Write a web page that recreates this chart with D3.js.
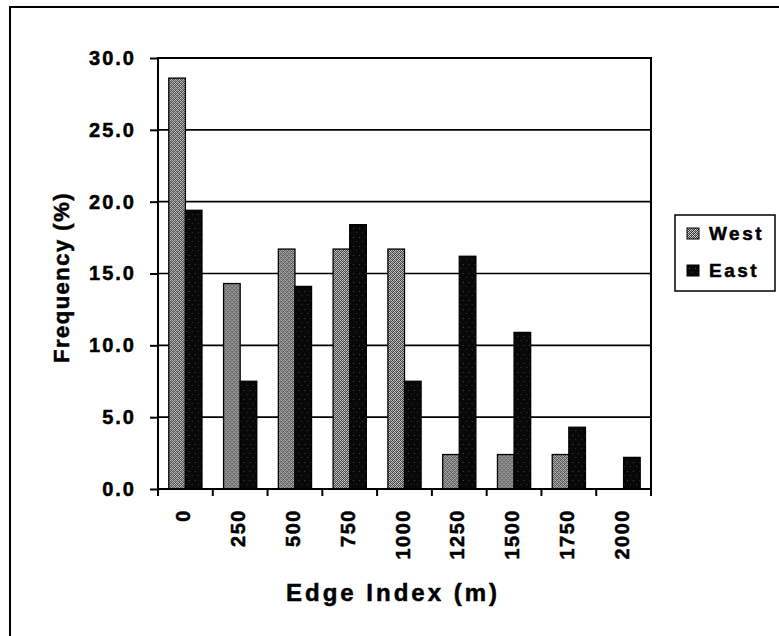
<!DOCTYPE html>
<html>
<head>
<meta charset="utf-8">
<script src="https://cdn.jsdelivr.net/npm/d3@7"></script>
<style>
  html, body { margin: 0; padding: 0; background: #fff; }
  svg { display: block; }
  text { font-family: "Liberation Sans", Arial, sans-serif; font-weight: bold; fill: #000; stroke: #000; stroke-width: 0.5px; }
</style>
</head>
<body>
<svg id="chart" width="779" height="636"></svg>
<script>
// ---- data ----
const categories = ["0", "250", "500", "750", "1000", "1250", "1500", "1750", "2000"];
const seriesNames = ["West", "East"];
const westValues = [28.6, 14.3, 16.7, 16.7, 16.7, 2.4, 2.4, 2.4, 0];
const eastValues = [19.4, 7.5, 14.1, 18.4, 7.5, 16.2, 10.9, 4.3, 2.2];
const yTicks = [0, 5, 10, 15, 20, 25, 30];
const yLabel = "Frequency (%)";
const xLabel = "Edge Index (m)";

// ---- layout ----
const W = 779, H = 636;
const plot = { left: 158, right: 651, top: 58, bottom: 489 };

const svg = d3.select("#chart");
const defs = svg.append("defs");

// West: gray crosshatch texture
const pw = defs.append("pattern").attr("id", "westPat")
  .attr("patternUnits", "userSpaceOnUse").attr("width", 4).attr("height", 4);
pw.append("rect").attr("width", 4).attr("height", 4).attr("fill", "#d6d6d6");
[[0,0,"#222"],[2,0,"#555"],[1,1,"#444"],[3,1,"#333"],[0,2,"#555"],[2,2,"#222"],[3,3,"#444"],[1,3,"#333"],[2,1,"#999"],[0,3,"#999"]]
  .forEach(([px, py, c]) => pw.append("rect").attr("x", px).attr("y", py).attr("width", 1).attr("height", 1).attr("fill", c));

// East: near black with sparse gray dots
const pe = defs.append("pattern").attr("id", "eastPat")
  .attr("patternUnits", "userSpaceOnUse").attr("width", 6).attr("height", 9);
pe.append("rect").attr("width", 6).attr("height", 9).attr("fill", "#080808");
pe.append("rect").attr("x", 2).attr("y", 3).attr("width", 1).attr("height", 1).attr("fill", "#4a4a4a");
pe.append("rect").attr("x", 5).attr("y", 7).attr("width", 1).attr("height", 1).attr("fill", "#3a3a3a");

const fills = { West: "url(#westPat)", East: "url(#eastPat)" };

// outer frame (open on right/bottom)
svg.append("path")
  .attr("d", d3.line()([[10, H + 5], [10, 7], [W + 5, 7]]))
  .attr("fill", "none").attr("stroke", "#000").attr("stroke-width", 2);

// scales
const y = d3.scaleLinear().domain([0, 30]).range([plot.bottom, plot.top]);
const x0 = d3.scaleBand().domain(categories).range([plot.left, plot.right])
  .paddingInner(0.394).paddingOuter(0.197);
const x1 = d3.scaleBand().domain(seriesNames).range([0, x0.bandwidth()]);

// gridlines
svg.append("g").selectAll("line").data(yTicks.filter(t => t > 0 && t < 30)).join("line")
  .attr("x1", plot.left).attr("x2", plot.right)
  .attr("y1", d => y(d)).attr("y2", d => y(d))
  .attr("stroke", "#000").attr("stroke-width", 1.6);

// bars
const data = categories.map((c, i) => ({ c, West: westValues[i], East: eastValues[i] }));
const groups = svg.append("g").selectAll("g").data(data).join("g")
  .attr("transform", d => `translate(${x0(d.c)},0)`);
groups.selectAll("rect").data(d => seriesNames.map(s => ({ s, v: d[s] })).filter(e => e.v > 0)).join("rect")
  .attr("x", d => x1(d.s))
  .attr("width", x1.bandwidth())
  .attr("y", d => y(d.v))
  .attr("height", d => y(0) - y(d.v))
  .attr("fill", d => fills[d.s])
  .attr("stroke", "#000").attr("stroke-width", 1.3);

// plot border
svg.append("rect")
  .attr("x", plot.left).attr("y", plot.top)
  .attr("width", plot.right - plot.left).attr("height", plot.bottom - plot.top)
  .attr("fill", "none").attr("stroke", "#000").attr("stroke-width", 2);

// y axis ticks + labels
const yAxis = d3.axisLeft(y).tickValues(yTicks).tickFormat(d3.format(".1f")).tickSize(8).tickPadding(14);
const gy = svg.append("g").attr("transform", `translate(${plot.left},0)`).call(yAxis);
gy.select(".domain").remove();
gy.selectAll(".tick line").attr("stroke", "#000").attr("stroke-width", 2);
gy.selectAll(".tick text")
  .style("font-family", "'Liberation Sans', Arial, sans-serif")
  .style("font-weight", "bold").style("font-size", "20px").style("letter-spacing", "2px")
  .attr("fill", "#000").attr("stroke", "#000").attr("stroke-width", 0.5);

// x axis ticks at category boundaries
const boundaries = d3.range(categories.length + 1).map(i => plot.left + i * x0.step());
svg.append("g").selectAll("line").data(boundaries).join("line")
  .attr("x1", d => d).attr("x2", d => d)
  .attr("y1", plot.bottom).attr("y2", plot.bottom + 7)
  .attr("stroke", "#000").attr("stroke-width", 2);

// x tick labels (rotated)
svg.append("g").selectAll("text").data(categories).join("text")
  .attr("transform", d => `translate(${x0(d) + x0.bandwidth() / 2 - 2},${plot.bottom + 20}) rotate(-90)`)
  .attr("text-anchor", "end")
  .attr("dy", "0.35em")
  .style("font-size", "20px").style("letter-spacing", "1.5px")
  .text(d => d);

// axis titles
svg.append("text")
  .attr("transform", `translate(69,${(plot.top + plot.bottom) / 2 + 4}) rotate(-90)`)
  .attr("text-anchor", "middle")
  .style("font-size", "22px").style("letter-spacing", "1.5px")
  .text(yLabel);

svg.append("text")
  .attr("x", 393).attr("y", 601)
  .attr("text-anchor", "middle")
  .style("font-size", "24px").style("letter-spacing", "3px")
  .text(xLabel);

// legend
const lg = svg.append("g");
lg.append("rect").attr("x", 675).attr("y", 215).attr("width", 100).attr("height", 76)
  .attr("fill", "#fff").attr("stroke", "#000").attr("stroke-width", 1.5);
const items = lg.selectAll("g").data(seriesNames).join("g")
  .attr("transform", (d, i) => `translate(687,${228 + i * 37})`);
items.append("rect").attr("width", 12).attr("height", 11)
  .attr("fill", d => fills[d]).attr("stroke", "#000").attr("stroke-width", 1);
items.append("text").attr("x", 22).attr("y", 11.5)
  .style("font-size", "19px").style("letter-spacing", "2.5px")
  .text(d => d);
</script>
</body>
</html>
